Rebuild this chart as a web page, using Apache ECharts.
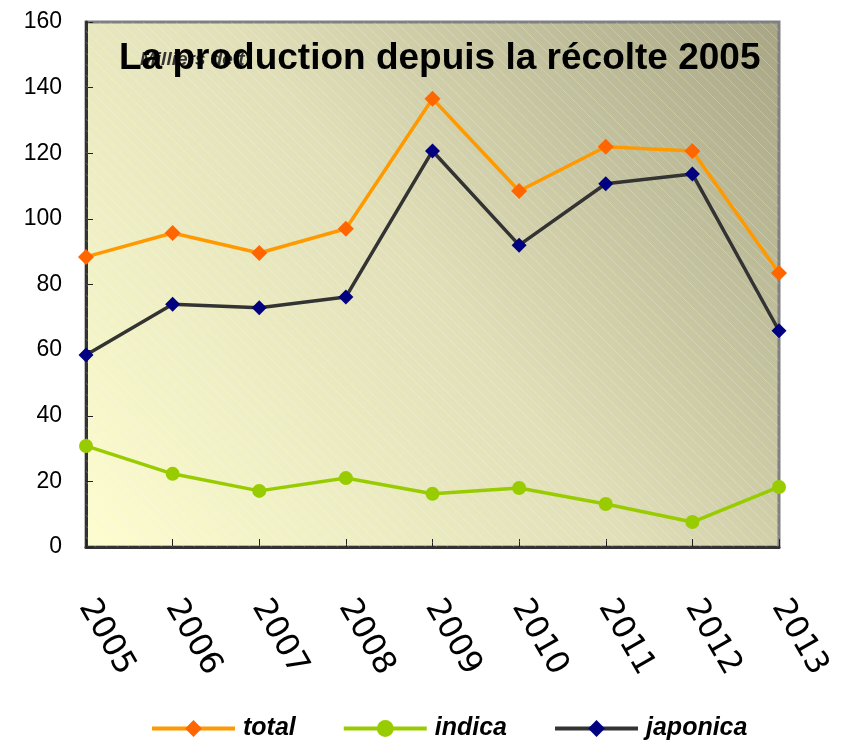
<!DOCTYPE html>
<html>
<head>
<meta charset="utf-8">
<script src="https://cdn.jsdelivr.net/npm/echarts@6/dist/echarts.min.js"></script>
<style>
  html, body { margin: 0; padding: 0; background: #fff; }
  #main { width: 849px; height: 741px; }
</style>
</head>
<body>
<div id="main"></div>
<script>
// années de récolte
let years = ['2005', '2006', '2007', '2008', '2009', '2010', '2011', '2012', '2013'];
let seriesNames = ['total', 'indica', 'japonica'];
// milliers de t
let totalData = [88.4, 95.7, 89.6, 97.0, 136.6, 108.5, 122.0, 120.7, 83.5];
let indicaData = [30.8, 22.3, 17.1, 21.0, 16.2, 18.0, 13.1, 7.6, 18.3];
let japonicaData = [58.5, 74.0, 72.9, 76.2, 120.7, 92.0, 110.7, 113.7, 65.9];
let yTicks = [0, 20, 40, 60, 80, 100, 120, 140, 160];

let lineColors = ['#ff9900', '#99cc00', '#333333'];
let markColors = ['#ff6600', '#99cc00', '#000080'];
let symbols = ['diamond', 'circle', 'diamond'];
let symbolSizes = [16, 14, 15];

// petites hachures blanches en diagonale
function hatch() {
    let c = document.createElement('canvas');
    c.width = 11; c.height = 11;
    let ctx = c.getContext('2d');
    ctx.strokeStyle = 'rgba(255,255,255,0.22)';
    ctx.lineWidth = 1;
    ctx.beginPath();
    ctx.moveTo(-1, -1); ctx.lineTo(12, 12);
    ctx.stroke();
    return c;
}

let myChart = echarts.init(document.getElementById('main'));
let gridLeft = 86, gridTop = 22, gridRight = 70, gridBottom = 194;

let option = {
    backgroundColor: '#fff',
    animation: false,
    textStyle: { fontFamily: 'Liberation Sans, Arial, sans-serif' },
    grid: {
        left: gridLeft, top: gridTop, right: gridRight, bottom: gridBottom,
        show: true,
        borderColor: '#808080',
        borderWidth: 3,
        backgroundColor: new echarts.graphic.LinearGradient(0, 1, 1, 0, [
            { offset: 0, color: '#fdfdd0' },
            { offset: 0.5, color: '#e0dfb8' },
            { offset: 1, color: '#a7a584' }
        ])
    },
    graphic: [
        {
            type: 'rect', silent: true, z: 1,
            shape: { x: gridLeft, y: gridTop, width: 849 - gridLeft - gridRight, height: 741 - gridTop - gridBottom },
            style: { fill: { image: hatch(), repeat: 'repeat' } }
        },
        {
            type: 'text', silent: true, z: 3,
            left: 140, top: 50,
            style: { text: 'Milliers de t', fill: '#333', font: 'italic bold 19px Liberation Sans, Arial' }
        },
        {
            type: 'text', silent: true, z: 4,
            left: 119, top: 40,
            style: { text: 'La production depuis la récolte 2005', fill: '#000', font: 'bold 37px Liberation Sans, Arial' }
        }
    ],
    legend: {
        data: seriesNames,
        left: 145,
        top: 711,
        itemWidth: 83,
        itemHeight: 21,
        itemGap: 46,
        lineStyle: { width: 4 },
        textStyle: {
            fontSize: 25,
            fontStyle: 'italic',
            fontWeight: 'bold',
            color: '#000',
            padding: [0, 0, 0, 3]
        }
    },
    xAxis: {
        type: 'category',
        data: years,
        boundaryGap: false,
        axisLine: { lineStyle: { color: '#333', width: 3 } },
        axisTick: { inside: true, length: 8, lineStyle: { color: '#222', width: 1 } },
        axisLabel: {
            rotate: -60,
            margin: 55,
            fontSize: 32,
            fontFamily: 'DejaVu Sans',
            color: '#000'
        },
        splitLine: { show: false }
    },
    yAxis: {
        type: 'value',
        min: yTicks[0],
        max: yTicks[yTicks.length - 1],
        interval: 20,
        axisLine: { show: true, lineStyle: { color: '#333', width: 3 } },
        axisTick: { show: true, inside: true, length: 7, lineStyle: { color: '#222', width: 1 } },
        axisLabel: { fontSize: 23, margin: 24, color: '#000' },
        splitLine: { show: false }
    },
    series: [totalData, indicaData, japonicaData].map(function (d, i) {
        return {
            name: seriesNames[i],
            type: 'line',
            data: d,
            z: 5,
            symbol: symbols[i],
            symbolSize: symbolSizes[i],
            itemStyle: { color: markColors[i] },
            lineStyle: { color: lineColors[i], width: 3.5 }
        };
    })
};
myChart.setOption(option);
window.onresize = function () {
    myChart.resize();
};
</script>
</body>
</html>
